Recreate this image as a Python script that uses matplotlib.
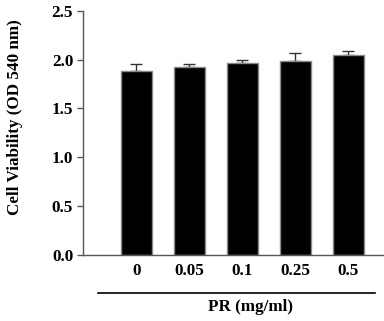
import matplotlib
matplotlib.use('Agg')
from matplotlib import pyplot as plt
import numpy

doses = ['0', '0.05', '0.1', '0.25', '0.5']
viability = [1.88, 1.925, 1.965, 1.99, 2.05]
err = [0.07, 0.03, 0.035, 0.075, 0.04]

plt.rcParams['font.family'] = ['Liberation Serif', 'DejaVu Serif']
plt.rcParams['font.weight'] = 'bold'
fontsize = 12.3

fig = plt.figure(figsize=(3.84, 3.21), dpi=100)
ax = fig.add_axes([0.216, 0.2065, 0.784, 0.76])

x = numpy.arange(len(viability))
ax.bar(x, viability, 0.6, color='black', edgecolor='#8a8a8a', linewidth=1, zorder=2)
ax.errorbar(x, viability, yerr=[numpy.zeros(len(err)), err], fmt='none',
            ecolor='#333333', elinewidth=1, capsize=4, capthick=1, zorder=1)

ax.set_xlim(-1.01, 4.67)
ax.set_ylim(0, 2.5)
ax.set_yticks([0, 0.5, 1.0, 1.5, 2.0, 2.5])
ax.set_yticklabels(['0.0', '0.5', '1.0', '1.5', '2.0', '2.5'])
ax.set_xticks(x)
ax.set_xticklabels(doses)
ax.tick_params(axis='x', length=0, pad=6, labelsize=fontsize)
ax.tick_params(axis='y', length=4, width=1, color='#555555', labelsize=fontsize, pad=3)

for s in ['top', 'right']:
    ax.spines[s].set_visible(False)
for s in ['left', 'bottom']:
    ax.spines[s].set_color('#555555')
    ax.spines[s].set_linewidth(1)

ax.set_ylabel('Cell Viability (OD 540 nm)', fontsize=fontsize, fontweight='bold')
ax.yaxis.set_label_coords(-0.198, 0.565)

# line under the dose labels
ax.plot([0.05, 0.97], [-0.157, -0.157], transform=ax.transAxes, color='black',
        linewidth=1.2, clip_on=False)
fig.text(250 / 384, 1 - 307 / 321, 'PR (mg/ml)', ha='center', va='center',
         fontsize=fontsize, fontweight='bold')

plt.savefig('out.png', dpi=100)
